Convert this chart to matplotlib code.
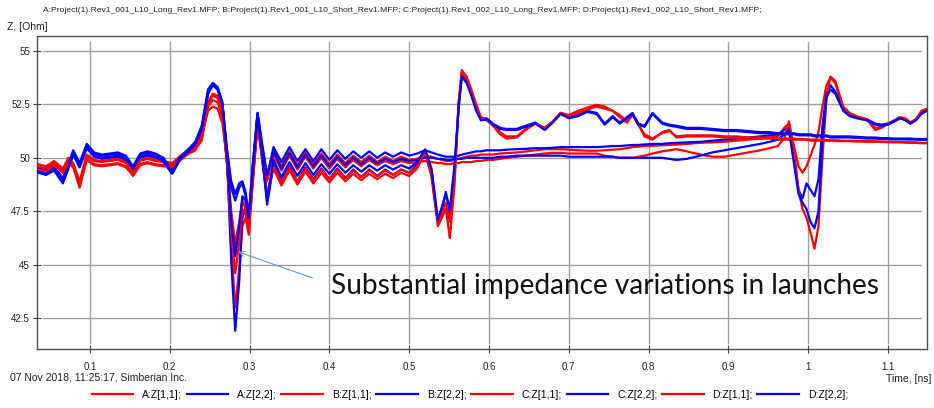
import matplotlib
matplotlib.use("Agg")
import matplotlib.pyplot as plt
from matplotlib.ticker import FormatStrFormatter
from matplotlib import font_manager

plt.rcParams['font.family'] = ['Liberation Sans', 'DejaVu Sans']

# time axis (ns), shared by all traces
t_ns = [
    0.035, 0.045, 0.055, 0.066, 0.073, 0.079, 0.087, 0.096, 0.105, 0.115, 0.125, 0.135, 0.145, 0.154, 0.163, 0.172, 0.182, 0.192, 0.203, 0.212, 0.222, 0.232,
    0.240, 0.248, 0.254, 0.260, 0.266, 0.272, 0.277, 0.282, 0.287, 0.291, 0.295, 0.299, 0.304, 0.310, 0.316, 0.322,
    0.330, 0.340, 0.350, 0.360, 0.370, 0.380, 0.390, 0.400, 0.410, 0.420, 0.430, 0.440, 0.450, 0.460, 0.470, 0.480, 0.490, 0.500,
    0.510, 0.520, 0.528, 0.536, 0.541, 0.546, 0.551, 0.557, 0.562, 0.566, 0.572, 0.578, 0.584, 0.590, 0.597,
    0.605, 0.614, 0.622, 0.635, 0.646, 0.658, 0.670, 0.680, 0.690, 0.700, 0.712, 0.723, 0.735, 0.745, 0.755, 0.764, 0.773, 0.780, 0.787, 0.795, 0.805, 0.817, 0.826, 0.835, 0.848, 0.865, 0.880, 0.895, 0.910, 0.925, 0.940, 0.952, 0.962, 0.970,
    0.976, 0.982, 0.988, 0.993, 0.998, 1.003, 1.008, 1.013, 1.018, 1.023, 1.028, 1.034, 1.044, 1.052, 1.061, 1.074, 1.084, 1.092, 1.100, 1.108, 1.115, 1.122, 1.128, 1.135, 1.142, 1.149,
]

# A: Rev1_001_L10_Long
a_z11 = [
    49.6, 49.5, 49.8, 49.4, 49.9, 49.7, 48.8, 50.1, 49.85, 49.8, 49.85, 49.9, 49.75, 49.25, 49.85, 49.95, 49.85, 49.8, 49.7, 50.0, 50.3, 50.5,
    51.0, 52.2, 52.4, 52.3, 51.6, 49.8, 47.5, 46.0, 47.0, 48.0, 47.6, 46.8, 49.0, 51.5, 50.2, 48.9,
    50.3, 49.6, 50.3, 49.65, 50.25, 49.7, 50.2, 49.7, 50.15, 49.75, 50.1, 49.8, 50.1, 49.8, 50.05, 49.85, 50.05, 49.9,
    49.95, 50.1, 50.05, 49.95, 49.9, 49.85, 49.85, 49.9, 49.95, 50.0, 50.05, 50.1, 50.1, 50.15, 50.15,
    50.15, 50.2, 50.22, 50.25, 50.3, 50.35, 50.4, 50.4, 50.4, 50.38, 50.35, 50.33, 50.33, 50.35, 50.38, 50.4, 50.45, 50.5, 50.52, 50.55, 50.56, 50.58, 50.6, 50.62, 50.65, 50.7, 50.72, 50.75, 50.8, 50.85, 50.9, 50.95, 51.0, 51.4,
    51.6, 50.6, 49.6, 49.3, 49.6, 50.1, 50.6, 51.2, 52.4, 53.4, 53.75, 53.5, 52.3, 52.0, 51.9, 51.75, 51.4, 51.45, 51.6, 51.7, 51.85, 51.8, 51.6, 51.75, 52.1, 52.25,
]
a_z22 = [
    49.45, 49.35, 49.55, 48.95, 49.65, 50.3, 49.7, 50.6, 50.2, 50.1, 50.15, 50.2, 50.05, 49.55, 50.15, 50.25, 50.15, 49.95, 49.35, 49.95, 50.3, 50.7,
    51.4, 53.1, 53.4, 53.2, 52.5, 50.2, 48.6, 48.0, 48.6, 48.8, 48.2, 46.9, 49.6, 52.1, 50.5, 49.1,
    50.5, 49.8, 50.5, 49.85, 50.4, 49.85, 50.4, 49.9, 50.35, 49.95, 50.3, 50.0, 50.3, 50.0, 50.25, 50.05, 50.25, 50.1,
    50.2, 50.35, 50.25, 50.15, 50.1, 50.05, 50.05, 50.05, 50.1, 50.15, 50.2, 50.25, 50.3, 50.3, 50.35,
    50.35, 50.35, 50.38, 50.4, 50.42, 50.45, 50.45, 50.47, 50.5, 50.5, 50.5, 50.5, 50.5, 50.52, 50.55, 50.55, 50.58, 50.6, 50.6, 50.62, 50.65, 50.65, 50.68, 50.7, 50.72, 50.75, 50.8, 50.85, 50.9, 50.95, 51.0, 51.05, 51.1, 51.3,
    51.4, 50.0, 48.5, 48.1, 48.8, 48.5, 48.2, 49.0, 51.5, 53.0, 53.4, 53.1, 52.3, 52.0, 51.9, 51.8, 51.6, 51.55, 51.6, 51.75, 51.9, 51.8, 51.65, 51.8, 52.1, 52.25,
]

# B: Rev1_001_L10_Short
b_z11 = [
    49.5, 49.4, 49.7, 49.3, 49.8, 49.6, 48.6, 49.95, 49.7, 49.65, 49.7, 49.75, 49.6, 49.15, 49.7, 49.8, 49.7, 49.65, 49.6, 49.9, 50.2, 50.4,
    50.8, 52.5, 52.9, 52.8, 52.1, 49.6, 45.8, 43.0, 44.8, 46.8, 47.2, 46.4, 48.8, 51.6, 49.8, 48.2,
    49.5, 48.7, 49.4, 48.75, 49.35, 48.8, 49.3, 48.85, 49.3, 48.9, 49.25, 48.95, 49.25, 49.0, 49.25, 49.05, 49.3, 49.15,
    49.5, 50.25, 49.1, 46.8, 47.2, 47.6, 46.25, 48.8, 52.5, 54.1, 53.8, 53.2, 52.5, 51.9, 51.8,
    51.5, 51.1, 50.9, 50.95, 51.3, 51.6, 51.4, 51.7, 52.1, 52.0, 52.2, 52.35, 52.48, 52.4, 52.2, 51.9, 51.64, 52.0, 51.6, 51.0, 50.85, 51.2, 51.3, 50.95, 51.0, 51.0, 51.0, 50.95, 50.95, 50.9, 50.9, 50.9, 50.85, 50.85,
    50.85, 50.85, 50.85, 50.85, 50.85, 50.8, 50.8, 50.8, 50.8, 50.8, 50.8, 50.78, 50.78, 50.78, 50.76, 50.75, 50.75, 50.74, 50.73, 50.72, 50.72, 50.71, 50.7, 50.7, 50.68, 50.68,
]
b_z22 = [
    49.3, 49.2, 49.4, 48.8, 49.5, 50.15, 49.55, 50.45, 50.05, 49.95, 50.0, 50.05, 49.9, 49.45, 50.0, 50.1, 50.0, 49.8, 49.25, 49.85, 50.2, 50.6,
    51.2, 53.0, 53.5, 53.3, 52.6, 49.9, 45.2, 41.9, 44.2, 47.2, 47.6, 47.0, 49.3, 52.0, 50.0, 47.8,
    49.7, 48.9, 49.6, 48.9, 49.55, 49.0, 49.5, 49.0, 49.5, 49.05, 49.45, 49.1, 49.45, 49.15, 49.45, 49.2, 49.45, 49.3,
    49.7, 50.35, 49.4, 47.0, 47.6, 48.4, 47.4, 49.5, 52.4, 53.85, 53.6, 53.0, 52.3, 51.8, 51.85,
    51.6, 51.4, 51.35, 51.35, 51.5, 51.65, 51.35, 51.7, 52.1, 51.9, 52.0, 52.2, 52.1, 51.6, 51.95, 51.65, 51.9, 52.1, 51.6, 51.5, 52.1, 51.65, 51.55, 51.5, 51.4, 51.4, 51.35, 51.3, 51.3, 51.25, 51.2, 51.2, 51.15, 51.15,
    51.15, 51.15, 51.1, 51.1, 51.1, 51.1, 51.05, 51.05, 51.05, 51.05, 51.0, 51.0, 51.0, 51.0, 50.98, 50.95, 50.95, 50.92, 50.92, 50.9, 50.9, 50.9, 50.9, 50.88, 50.88, 50.88,
]

# C: Rev1_002_L10_Long
c_z11 = [
    49.7, 49.6, 49.85, 49.5, 50.0, 49.75, 48.9, 50.15, 49.9, 49.85, 49.9, 49.95, 49.8, 49.35, 49.9, 50.0, 49.9, 49.85, 49.75, 50.05, 50.35, 50.6,
    51.0, 52.4, 52.7, 52.6, 51.9, 49.7, 47.0, 45.5, 46.8, 48.0, 47.7, 47.0, 49.1, 51.7, 50.3, 49.0,
    50.15, 49.4, 50.1, 49.45, 50.05, 49.5, 50.0, 49.5, 49.95, 49.55, 49.9, 49.6, 49.9, 49.65, 49.85, 49.7, 49.85, 49.75,
    49.8, 49.85, 49.8, 49.75, 49.75, 49.7, 49.7, 49.75, 49.75, 49.8, 49.8, 49.8, 49.85, 49.85, 49.9,
    49.9, 49.95, 50.0, 50.05, 50.1, 50.15, 50.2, 50.23, 50.23, 50.2, 50.2, 50.2, 50.2, 50.1, 50.05, 50.0, 50.0, 50.0, 50.05, 50.1, 50.2, 50.3, 50.35, 50.4, 50.3, 50.15, 50.05, 50.05, 50.15, 50.25, 50.35, 50.45, 50.55, 50.9,
    51.7, 50.5, 48.5, 47.6, 47.2, 46.5, 45.75, 46.8, 50.0, 52.8, 53.8, 53.6, 52.4, 52.1, 51.95, 51.8, 51.3, 51.4, 51.6, 51.7, 51.9, 51.85, 51.65, 51.8, 52.2, 52.3,
]
c_z22 = [
    49.5, 49.4, 49.6, 49.05, 49.7, 50.35, 49.75, 50.65, 50.25, 50.15, 50.2, 50.25, 50.1, 49.6, 50.2, 50.3, 50.2, 50.0, 49.4, 50.0, 50.35, 50.75,
    51.5, 53.2, 53.5, 53.3, 52.5, 50.3, 48.9, 48.3, 48.8, 48.9, 48.4, 47.3, 49.7, 52.1, 50.6, 49.2,
    50.3, 49.5, 50.2, 49.55, 50.15, 49.6, 50.1, 49.6, 50.05, 49.65, 50.0, 49.7, 50.0, 49.75, 49.95, 49.8, 49.95, 49.85,
    49.9, 50.0, 50.0, 49.95, 49.95, 49.9, 49.9, 49.95, 49.95, 49.95, 50.0, 50.0, 50.0, 50.0, 50.0,
    50.0, 50.05, 50.05, 50.1, 50.1, 50.1, 50.1, 50.1, 50.1, 50.05, 50.05, 50.05, 50.05, 50.05, 50.05, 50.0, 50.0, 50.0, 50.0, 50.0, 50.0, 50.0, 49.95, 49.9, 49.95, 50.1, 50.25, 50.35, 50.45, 50.55, 50.65, 50.75, 50.85, 51.1,
    51.3, 49.8, 48.3, 47.9, 47.6, 47.0, 46.7, 47.5, 50.8, 52.8, 53.2, 53.0, 52.2, 51.95, 51.85, 51.75, 51.55, 51.5, 51.55, 51.7, 51.85, 51.75, 51.6, 51.75, 52.05, 52.2,
]

# D: Rev1_002_L10_Short
d_z11 = [
    49.45, 49.35, 49.65, 49.3, 49.75, 49.55, 48.7, 49.9, 49.65, 49.6, 49.65, 49.7, 49.55, 49.2, 49.65, 49.75, 49.65, 49.6, 49.55, 49.85, 50.15, 50.35,
    50.9, 52.6, 53.0, 52.9, 52.2, 49.6, 46.5, 44.6, 46.0, 47.6, 47.4, 46.6, 48.9, 51.7, 49.9, 48.3,
    49.6, 48.85, 49.55, 48.9, 49.5, 48.95, 49.45, 49.0, 49.45, 49.05, 49.4, 49.1, 49.4, 49.15, 49.4, 49.2, 49.45, 49.3,
    49.6, 50.3, 49.3, 47.0, 47.4, 47.9, 47.0, 49.2, 52.6, 54.0, 53.7, 53.1, 52.4, 51.85, 51.75,
    51.55, 51.2, 51.0, 51.0, 51.35, 51.6, 51.4, 51.7, 52.1, 51.95, 52.1, 52.25, 52.4, 52.3, 52.2, 52.0, 51.7, 52.05, 51.55, 51.1, 50.9, 51.15, 51.25, 51.0, 51.05, 51.05, 51.05, 51.0, 51.0, 50.95, 50.95, 50.95, 50.9, 50.9,
    50.9, 50.9, 50.88, 50.88, 50.86, 50.85, 50.85, 50.84, 50.84, 50.83, 50.82, 50.82, 50.8, 50.8, 50.79, 50.78, 50.77, 50.76, 50.75, 50.75, 50.74, 50.73, 50.72, 50.72, 50.7, 50.7,
]
d_z22 = [
    49.35, 49.25, 49.45, 48.85, 49.55, 50.2, 49.6, 50.5, 50.1, 50.0, 50.05, 50.1, 49.95, 49.5, 50.05, 50.15, 50.05, 49.85, 49.3, 49.9, 50.25, 50.65,
    51.3, 53.0, 53.4, 53.2, 52.5, 50.0, 47.0, 45.4, 46.8, 48.2, 48.0, 47.2, 49.4, 52.0, 50.1, 48.0,
    49.9, 49.1, 49.8, 49.15, 49.75, 49.2, 49.7, 49.25, 49.7, 49.3, 49.65, 49.35, 49.65, 49.4, 49.65, 49.45, 49.65, 49.5,
    49.8, 50.4, 49.5, 47.1, 47.7, 48.3, 47.6, 49.7, 52.3, 53.8, 53.5, 52.9, 52.2, 51.75, 51.8,
    51.55, 51.35, 51.3, 51.3, 51.45, 51.6, 51.3, 51.65, 52.05, 51.85, 51.95, 52.15, 52.05, 51.55, 51.9, 51.6, 51.85, 52.05, 51.55, 51.45, 52.05, 51.6, 51.5, 51.45, 51.35, 51.35, 51.3, 51.25, 51.25, 51.2, 51.15, 51.15, 51.1, 51.1,
    51.1, 51.1, 51.05, 51.05, 51.05, 51.05, 51.0, 51.0, 51.0, 51.0, 50.95, 50.95, 50.95, 50.95, 50.93, 50.9, 50.9, 50.88, 50.88, 50.86, 50.86, 50.86, 50.85, 50.85, 50.84, 50.84,
]

series = [
    ('A:Z[1,1];', a_z11, '#ff0000'),
    ('A:Z[2,2];', a_z22, '#0000ff'),
    ('B:Z[1,1];', b_z11, '#ff0000'),
    ('B:Z[2,2];', b_z22, '#0000ff'),
    ('C:Z[1,1];', c_z11, '#ff0000'),
    ('C:Z[2,2];', c_z22, '#0000ff'),
    ('D:Z[1,1];', d_z11, '#ff0000'),
    ('D:Z[2,2];', d_z22, '#0000ff'),
]

x_ticks = [0.1, 0.2, 0.3, 0.4, 0.5, 0.6, 0.7, 0.8, 0.9, 1.0, 1.1]
y_ticks = [42.5, 45, 47.5, 50, 52.5, 55]

header = ("A:Project(1).Rev1_001_L10_Long_Rev1.MFP; B:Project(1).Rev1_001_L10_Short_Rev1.MFP; "
          "C:Project(1).Rev1_002_L10_Long_Rev1.MFP; D:Project(1).Rev1_002_L10_Short_Rev1.MFP;")

# a narrow face fits the long header like the original UI font does
installed = {f.name for f in font_manager.fontManager.ttflist}
if 'Liberation Sans Narrow' in installed:
    head_family, fs_head = ['Liberation Sans Narrow'], 7.4
else:
    head_family, fs_head = ['Liberation Sans'], 6.1

W, H = 934, 408
fig = plt.figure(figsize=(W / 100, H / 100), dpi=100)
fig.patch.set_facecolor('white')
ax = fig.add_axes([37 / W, 59 / H, 890 / W, 313 / H])

lines = []
for name, z, col in series:
    ln, = ax.plot(t_ns, z, color=col, lw=1.6, label=name, zorder=3)
    lines.append(ln)

ax.set_xlim(0.0336, 1.149)
ax.set_ylim(41.05, 55.70)

# grid stops a few pixels short of the frame
for v in x_ticks:
    ax.axvline(v, ymin=0.02, ymax=0.98, color='#a0a0a0', lw=1.0, zorder=1)
for v in y_ticks:
    ax.axhline(v, xmin=0.007, xmax=0.993, color='#a0a0a0', lw=1.0, zorder=1)

ax.set_xticks(x_ticks)
ax.set_yticks(y_ticks)
ax.xaxis.set_major_formatter(FormatStrFormatter('%g'))
ax.yaxis.set_major_formatter(FormatStrFormatter('%g'))
ax.tick_params(direction='inout', length=6, width=0.8, labelsize=7,
               color='#404040', labelcolor='#202020')
ax.tick_params(axis='x', pad=6)
ax.tick_params(axis='y', pad=2)
for sp in ax.spines.values():
    sp.set_color('#505050')
    sp.set_linewidth(1.0)

# annotation
ax.annotate('', xy=(0.2855, 45.6), xytext=(0.3785, 44.38),
            arrowprops=dict(arrowstyle='->', color='#5b9bd5', lw=0.8,
                            shrinkA=0, shrinkB=0, mutation_scale=9), zorder=5)
ax.text(0.4025, 44.0, 'Substantial impedance variations in launches',
        fontsize=20.2, family=['Lato', 'DejaVu Sans'], color='#111111',
        ha='left', va='center', zorder=5)

fs = 7.5
fig.text(43 / W, 1 - 10 / H, header, fontsize=fs_head, family=head_family,
         ha='left', va='center', color='#202020')
fig.text(7 / W, 1 - 27 / H, 'Z, [Ohm]', fontsize=fs, ha='left', va='center', color='#202020')
fig.text(10 / W, 1 - 378 / H, '07 Nov 2018, 11:25:17, Simberian Inc.', fontsize=fs,
         ha='left', va='center', color='#202020')
fig.text(932 / W, 1 - 379 / H, 'Time, [ns]', fontsize=fs, ha='right', va='center', color='#202020')

fig.legend(handles=lines, loc='center', bbox_to_anchor=(470 / W, 1 - 395 / H), ncol=8,
           frameon=False, fontsize=fs, handlelength=4.0, handletextpad=0.85,
           columnspacing=0.45, borderpad=0, borderaxespad=0)

fig.savefig('out.png', dpi=100)
